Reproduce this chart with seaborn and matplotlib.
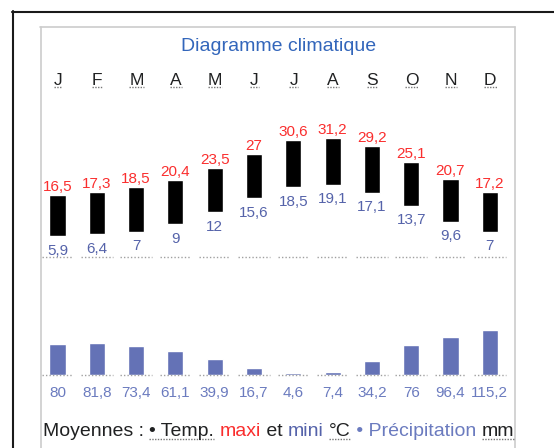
import seaborn as sns
import matplotlib.pyplot as plt
from matplotlib.lines import Line2D
from matplotlib.transforms import IdentityTransform

# données climatiques (moyennes mensuelles)
months = ["J", "F", "M", "A", "M", "J", "J", "A", "S", "O", "N", "D"]
temp_max = [16.5, 17.3, 18.5, 20.4, 23.5, 27, 30.6, 31.2, 29.2, 25.1, 20.7, 17.2]
temp_min = [5.9, 6.4, 7, 9, 12, 15.6, 18.5, 19.1, 17.1, 13.7, 9.6, 7]
precip = [80, 81.8, 73.4, 61.1, 39.9, 16.7, 4.6, 7.4, 34.2, 76, 96.4, 115.2]

W, H, DPI = 554, 448, 100
RED = "#fa2e2e"
BLUE = "#5563aa"
PRECIP_BAR = "#6472b6"
PRECIP_TXT = "#6b7bbf"
INK = "#202122"
DOTS = "#a0a0a0"

sns.set_theme(style="white")
plt.rcParams["font.family"] = ["Liberation Sans", "DejaVu Sans"]

fig = plt.figure(figsize=(W / DPI, H / DPI), dpi=DPI)


def px_axes(left, top, right, bottom):
    return fig.add_axes([left / W, 1 - bottom / H, (right - left) / W, (bottom - top) / H])


def fmt(v):
    return f"{v:g}".replace(".", ",")


col0, step = 57.5, 39.3
x_left, x_right = col0 - step / 2, col0 + 11.5 * step
idx = list(range(12))

# temperatures: barres flottantes mini -> maxi
t_scale, t_zero = 3.874, 258.9  # px par degre, pixel du 0 degre
ax_t = px_axes(x_left, 100, x_right, 257)
ax_t.bar(idx, [a - b for a, b in zip(temp_max, temp_min)], bottom=temp_min,
         width=0.41, color="black")
ax_t.set_xlim(-0.5, 11.5)
ax_t.set_ylim((t_zero - 257) / t_scale, (t_zero - 100) / t_scale)
ax_t.axis("off")
ax_t.hlines([0] * 12, [i - 0.4 for i in idx], [i + 0.4 for i in idx],
            transform=ax_t.get_xaxis_transform(), colors=DOTS,
            linestyles=(0, (1, 1.5)), lw=1, clip_on=False)

for i in idx:
    ax_t.annotate(fmt(temp_max[i]), (i, temp_max[i]), xytext=(0, 4),
                  textcoords="offset pixels", ha="center", va="baseline",
                  color=RED, fontsize=11)
    ax_t.annotate(fmt(temp_min[i]), (i, temp_min[i]), xytext=(0, -7.5),
                  textcoords="offset pixels", ha="center", va="top",
                  color=BLUE, fontsize=11)

month_texts = []
for i, m in enumerate(months):
    month_texts.append(ax_t.annotate(m, (i, 1), xycoords=ax_t.get_xaxis_transform(),
                                     xytext=(0.5, 15), textcoords="offset pixels",
                                     ha="center", va="baseline", color=INK,
                                     fontsize=12.5))

# precipitations
p_scale = 0.386
ax_p = px_axes(x_left, 300, x_right, 374.5)
sns.barplot(x=idx, y=precip, ax=ax_p, color=PRECIP_BAR, width=0.41,
            saturation=1, errorbar=None)
ax_p.set_xlim(-0.5, 11.5)
ax_p.set_ylim(0, 74.5 / p_scale)
ax_p.axis("off")
ax_p.hlines([0] * 12, [i - 0.4 for i in idx], [i + 0.4 for i in idx],
            colors=DOTS, linestyles=(0, (1, 1.5)), lw=1, clip_on=False)
for i in idx:
    ax_p.annotate(fmt(precip[i]), (i, 0), xytext=(0, -11),
                  textcoords="offset pixels", ha="center", va="top",
                  color=PRECIP_TXT, fontsize=11)

fig.text(279 / W, 1 - 51 / H, "Diagramme climatique", ha="center",
         va="baseline", color="#3366bb", fontsize=14)

# cadres
ident = IdentityTransform()
fig.add_artist(Line2D([12.5, 12.5], [0, H - 11], color="#1a1a1a", lw=1.5, transform=ident))
fig.add_artist(Line2D([12, W], [H - 11.5, H - 11.5], color="#1a1a1a", lw=1.5, transform=ident))
for xs, ys in [([40.5, 40.5], [0, H - 26.5]), ([514.5, 514.5], [0, H - 26.5]),
               ([40, 515], [H - 26.5, H - 26.5])]:
    fig.add_artist(Line2D(xs, ys, color="#cccccc", lw=1.2, transform=ident))

# legende en bas
renderer = fig.canvas.get_renderer()


def text_width(s, size):
    t = fig.text(0, 0, s + "|", fontsize=size)
    w = t.get_window_extent(renderer).width
    t.set_text("|")
    w -= t.get_window_extent(renderer).width
    t.remove()
    return w


footer = [("Moyennes : ", INK, False), ("• Temp.", INK, True), (" ", INK, False),
          ("maxi", RED, False), (" et ", INK, False), ("mini", BLUE, False),
          (" ", INK, False), ("°C", INK, True), (" • Précipitation ", PRECIP_TXT, False),
          ("mm", INK, True)]
fsize = 14
x = 43.0
underlined = []
for s, c, ul in footer:
    t = fig.text(x / W, 1 - 436 / H, s, fontsize=fsize, color=c, va="baseline")
    if ul:
        underlined.append(t)
    x += text_width(s, fsize)

fig.canvas.draw()
for t in underlined + month_texts:
    bb = t.get_window_extent(renderer)
    y = bb.y0 + 1.5
    fig.add_artist(Line2D([bb.x0, bb.x1], [y, y], color="#777777", lw=1,
                          linestyle=(0, (1, 1)), transform=ident))

fig.savefig("out.png", dpi=DPI)
plt.close(fig)
